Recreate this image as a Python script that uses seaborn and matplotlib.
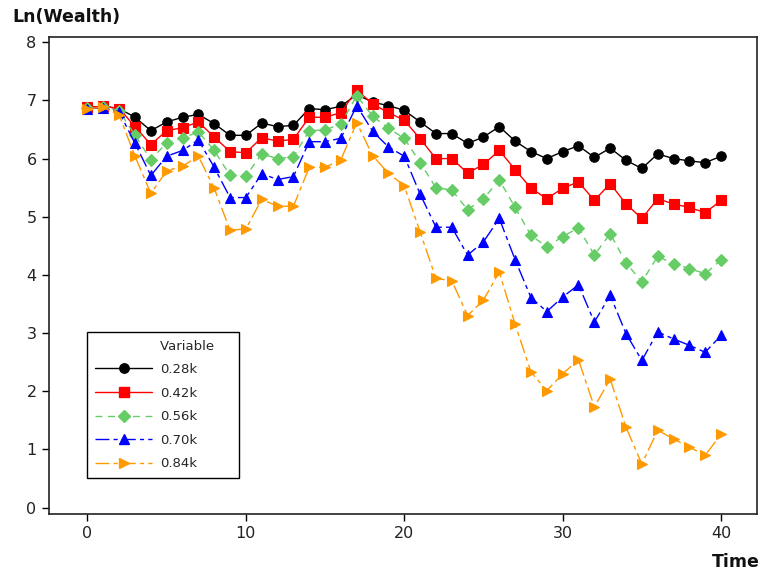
import numpy as np
import pandas as pd
import matplotlib
matplotlib.use("Agg")
import matplotlib.pyplot as plt
from matplotlib.lines import Line2D
import seaborn as sns

# Time steps and log-wealth paths for each betting fraction
time = list(range(41))

w_028 = [6.88, 6.90, 6.86, 6.71, 6.48, 6.63, 6.71, 6.76, 6.60, 6.40,
         6.40, 6.61, 6.55, 6.57, 6.86, 6.84, 6.90, 7.10, 6.97, 6.91,
         6.83, 6.63, 6.43, 6.43, 6.26, 6.37, 6.55, 6.30, 6.12, 6.00,
         6.12, 6.22, 6.02, 6.18, 5.97, 5.83, 6.08, 6.00, 5.96, 5.93, 6.04]
w_042 = [6.88, 6.90, 6.86, 6.55, 6.24, 6.48, 6.53, 6.63, 6.37, 6.12,
         6.10, 6.36, 6.30, 6.33, 6.71, 6.71, 6.79, 7.18, 6.94, 6.79,
         6.66, 6.34, 6.00, 6.00, 5.75, 5.90, 6.14, 5.81, 5.49, 5.31,
         5.49, 5.60, 5.28, 5.57, 5.22, 4.97, 5.31, 5.22, 5.16, 5.07, 5.28]
w_056 = [6.87, 6.88, 6.82, 6.40, 5.98, 6.27, 6.35, 6.46, 6.14, 5.71,
         5.70, 6.08, 6.00, 6.03, 6.48, 6.49, 6.60, 7.08, 6.73, 6.52,
         6.35, 5.93, 5.50, 5.46, 5.12, 5.31, 5.63, 5.16, 4.68, 4.48,
         4.66, 4.81, 4.34, 4.71, 4.21, 3.88, 4.32, 4.19, 4.11, 4.02, 4.26]
w_070 = [6.86, 6.87, 6.80, 6.26, 5.71, 6.04, 6.14, 6.32, 5.85, 5.33,
         5.33, 5.74, 5.64, 5.69, 6.29, 6.29, 6.35, 6.91, 6.47, 6.20,
         6.04, 5.39, 4.82, 4.82, 4.34, 4.57, 4.97, 4.26, 3.61, 3.37,
         3.62, 3.83, 3.19, 3.65, 2.99, 2.53, 3.02, 2.90, 2.79, 2.67, 2.96]
w_084 = [6.86, 6.88, 6.75, 6.04, 5.40, 5.79, 5.87, 6.04, 5.49, 4.77,
         4.79, 5.30, 5.18, 5.18, 5.85, 5.85, 5.98, 6.62, 6.05, 5.75,
         5.53, 4.74, 3.94, 3.90, 3.30, 3.57, 4.05, 3.15, 2.33, 2.01,
         2.30, 2.54, 1.73, 2.21, 1.38, 0.75, 1.33, 1.18, 1.04, 0.90, 1.26]

labels = ["0.28k", "0.42k", "0.56k", "0.70k", "0.84k"]
series = [w_028, w_042, w_056, w_070, w_084]

x_ticks = [0, 10, 20, 30, 40]
y_ticks = [0, 1, 2, 3, 4, 5, 6, 7, 8]

colors = ["#000000", "#FF0000", "#66CC66", "#0000FF", "#FF9900"]
markers = ["o", "s", "D", "^", ">"]
msizes = [6.8, 6.6, 6.2, 6.8, 6.8]
linestyles = ["-", "-", (0, (5, 4)), (0, (10, 3, 3, 3)), (0, (10, 3, 3, 3))]

sns.set_theme(style="white")
plt.rcParams["font.family"] = ["DejaVu Sans"]

fig = plt.figure(figsize=(7.63, 5.73), dpi=100)
ax = fig.add_axes([49 / 763, 59 / 573, 708 / 763, 477 / 573])

df = pd.DataFrame({"Time": time})
for lab, vals in zip(labels, series):
    df[lab] = vals
long_df = df.melt(id_vars="Time", var_name="Variable", value_name="LnWealth")

for lab, c, m, ms, ls in zip(labels, colors, markers, msizes, linestyles):
    sub = long_df[long_df["Variable"] == lab]
    sns.lineplot(data=sub, x="Time", y="LnWealth", ax=ax, color=c,
                 marker=m, markersize=ms, markeredgecolor=c, markerfacecolor=c,
                 markeredgewidth=0.8, linewidth=1.0, linestyle=ls,
                 legend=False, zorder=3)

ax.set_xlim(-2.43, 42.27)
ax.set_ylim(-0.11, 8.09)
ax.set_xticks(x_ticks)
ax.set_yticks(y_ticks)
ax.set_xlabel("")
ax.set_ylabel("")
ax.tick_params(axis="both", direction="out", length=5, width=1.0,
               color="black", labelsize=11.5, labelcolor="#222222",
               bottom=True, left=True, top=False, right=False, pad=4)
for sp in ax.spines.values():
    sp.set_color("#222222")
    sp.set_linewidth(1.2)

fig.text(12 / 763, 1 - 17 / 573, "Ln(Wealth)", fontsize=12.5, fontweight="bold",
         ha="left", va="center", color="#111111")
fig.text(760 / 763, 1 - 562 / 573, "Time", fontsize=12.5, fontweight="bold",
         ha="right", va="center", color="#111111")

# Legend with the "Variable" heading aligned over the labels
handles = [Line2D([], [], linestyle="none", marker=None)]
for c, m, ms, ls in zip(colors, markers, msizes, linestyles):
    handles.append(Line2D([], [], color=c, marker=m, markersize=ms,
                          markeredgecolor=c, markerfacecolor=c,
                          linewidth=1.0, linestyle=ls))
leg = ax.legend(handles, ["Variable    "] + labels, loc="lower left",
                bbox_to_anchor=(0.054, 0.075), borderaxespad=0,
                fontsize=9.5, handlelength=4.3, handletextpad=0.6,
                labelspacing=0.8, borderpad=0.6, frameon=True,
                fancybox=False, edgecolor="black", framealpha=1,
                markerscale=1.0)
leg.get_frame().set_linewidth(1.0)

fig.savefig("out.png", dpi=100)
